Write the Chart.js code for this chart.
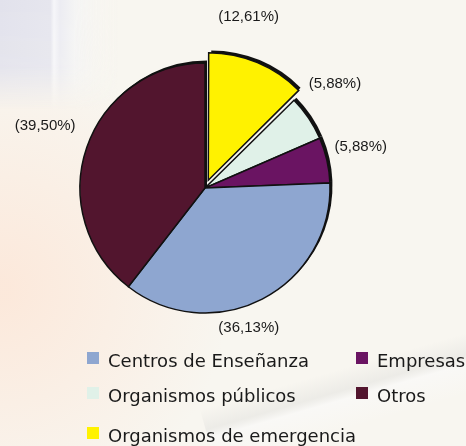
<!DOCTYPE html>
<html>
<head>
<meta charset="utf-8">
<script src="https://cdn.jsdelivr.net/npm/chart.js@4/dist/chart.umd.min.js"></script>
<style>
  html, body { margin: 0; padding: 0; background: #f8f6f0; }
  #wrap { position: absolute; left: 0; top: 0; width: 466px; height: 446px; }
</style>
</head>
<body>
<div id="wrap"><canvas id="pie" width="466" height="446"></canvas></div>
<script>
// legend order
var categories = ['Centros de Enseñanza', 'Empresas', 'Organismos públicos', 'Otros', 'Organismos de emergencia'];
var shares = [36.13, 5.88, 5.88, 39.50, 12.61];
var colors = ['#8ea6d0', '#6a1462', '#e0f1e8', '#52152e', '#fff200'];
// order the slices are drawn in, clockwise from 12 o'clock
var pieOrder = [4, 2, 1, 0, 3];

var pieLabels = pieOrder.map(function(i){ return categories[i]; });
var pieValues = pieOrder.map(function(i){ return shares[i]; });
var pieColors = pieOrder.map(function(i){ return colors[i]; });
var pieOffsets = pieOrder.map(function(i){ return i === 4 ? 34 : 0; });

function fmt(v){
    return '(' + v.toFixed(2).replace('.', ',') + '%)';
}

// same shift chart.js applies to an exploded arc
function arcShift(arc, off){
    var circ = arc.endAngle - arc.startAngle;
    var fix = 1 - Math.sin(Math.min(Math.PI, circ));
    return off / 4 * (1 + fix);
}

// soft photo-like backdrop
var backdropPlugin = {
    id: 'backdrop',
    beforeDraw: function(chart){
        var ctx = chart.ctx;
        ctx.save();
        ctx.fillStyle = '#f8f6f0';
        ctx.fillRect(0, 0, 466, 446);
        // warm glow on the left
        var g = ctx.createRadialGradient(0, 290, 10, 0, 290, 230);
        g.addColorStop(0, 'rgba(252,232,218,0.95)');
        g.addColorStop(1, 'rgba(252,232,218,0)');
        ctx.fillStyle = g;
        ctx.fillRect(0, 60, 300, 386);

        // grey panel top left, built off screen and faded out downwards
        var off = document.createElement('canvas');
        off.width = 120; off.height = 110;
        var o = off.getContext('2d');
        var h = o.createLinearGradient(0, 0, 120, 0);
        h.addColorStop(0, 'rgb(226,226,236)');
        h.addColorStop(0.42, 'rgb(230,230,238)');
        h.addColorStop(0.45, 'rgb(246,246,249)');
        h.addColorStop(0.5, 'rgb(236,236,242)');
        h.addColorStop(0.62, 'rgb(244,244,244)');
        h.addColorStop(1, 'rgba(248,246,240,0)');
        o.fillStyle = h;
        o.fillRect(0, 0, 120, 110);
        o.globalCompositeOperation = 'destination-in';
        var v = o.createLinearGradient(0, 0, 0, 110);
        v.addColorStop(0, 'rgba(0,0,0,1)');
        v.addColorStop(0.6, 'rgba(0,0,0,0.9)');
        v.addColorStop(1, 'rgba(0,0,0,0)');
        o.fillStyle = v;
        o.fillRect(0, 0, 120, 110);
        ctx.drawImage(off, 0, 0);

        // faint diagonal streak bottom right
        ctx.translate(340, 390);
        ctx.rotate(-0.28);
        var s = ctx.createLinearGradient(0, -20, 0, 40);
        s.addColorStop(0, 'rgba(225,225,222,0)');
        s.addColorStop(0.35, 'rgba(225,225,222,0.5)');
        s.addColorStop(0.5, 'rgba(250,250,250,0.6)');
        s.addColorStop(1, 'rgba(250,250,250,0)');
        ctx.fillStyle = s;
        ctx.fillRect(-140, -20, 320, 60);
        ctx.restore();
    }
};

// black edge behind the pie (looks like a drop shadow up and right)
var shadowPlugin = {
    id: 'shadowEdge',
    beforeDatasetsDraw: function(chart){
        var ctx = chart.ctx;
        var meta = chart.getDatasetMeta(0);
        ctx.save();
        ctx.fillStyle = '#111';
        meta.data.forEach(function(arc, i){
            var p = arc.getProps(['x', 'y', 'startAngle', 'endAngle', 'outerRadius']);
            var mid = (p.startAngle + p.endAngle) / 2;
            var off = arcShift(p, pieOffsets[i]);
            var cx = p.x + Math.cos(mid) * off + 2;
            var cy = p.y + Math.sin(mid) * off - 2;
            ctx.beginPath();
            ctx.moveTo(cx, cy);
            ctx.arc(cx, cy, p.outerRadius + 0.5, p.startAngle, p.endAngle);
            ctx.closePath();
            ctx.fill();
        });
        ctx.restore();
    }
};

// percentage labels outside the slices
var labelPlugin = {
    id: 'pctLabels',
    afterDatasetsDraw: function(chart, args, opts){
        var ctx = chart.ctx;
        var meta = chart.getDatasetMeta(0);
        ctx.save();
        ctx.font = '15px "Liberation Sans", Arial, sans-serif';
        ctx.fillStyle = '#1a1a1a';
        ctx.textAlign = 'center';
        ctx.textBaseline = 'middle';
        meta.data.forEach(function(arc, i){
            var p = arc.getProps(['x', 'y', 'startAngle', 'endAngle', 'outerRadius']);
            var mid = (p.startAngle + p.endAngle) / 2;
            var d = p.outerRadius + opts.distance;
            var s = opts.shift[i];
            ctx.fillText(fmt(pieValues[i]), p.x + Math.cos(mid) * d + s[0], p.y + Math.sin(mid) * d + s[1]);
        });
        ctx.restore();
    }
};

// two column legend under the pie
var legendPlugin = {
    id: 'gridLegend',
    afterDraw: function(chart, args, opts){
        var ctx = chart.ctx;
        ctx.save();
        ctx.font = opts.font;
        ctx.textBaseline = 'alphabetic';
        ctx.textAlign = 'left';
        for(var i=0; i<categories.length; i++){
            var col = i % 2;
            var row = Math.floor(i / 2);
            var x = opts.colX[col];
            var y = opts.rowY[row];
            ctx.fillStyle = colors[i];
            ctx.fillRect(x, y - 12, 12, 12);
            ctx.fillStyle = '#1a1a1a';
            ctx.fillText(categories[i], x + 21, y + 3);
        }
        ctx.restore();
    }
};

var chart = new Chart(document.getElementById('pie'), {
    type: 'pie',
    data: {
        labels: pieLabels,
        datasets: [{
            data: pieValues,
            backgroundColor: pieColors,
            borderColor: '#111',
            borderWidth: 1.5,
            borderJoinStyle: 'miter',
            offset: pieOffsets
        }]
    },
    options: {
        responsive: false,
        animation: false,
        radius: 125,
        layout: { padding: { left: 0, right: 56, top: 2, bottom: 72 } },
        plugins: {
            legend: { display: false },
            tooltip: { enabled: false },
            pctLabels: {
                distance: 45,
                shift: [[-22, -14], [-11, -9], [-10, -3], [-34, -11], [1, -7]]
            },
            gridLegend: {
                font: '18px "DejaVu Sans", Verdana, sans-serif',
                colX: [87, 356],
                rowY: [364, 399, 439]
            }
        }
    },
    plugins: [backdropPlugin, shadowPlugin, labelPlugin, legendPlugin]
});
</script>
</body>
</html>
